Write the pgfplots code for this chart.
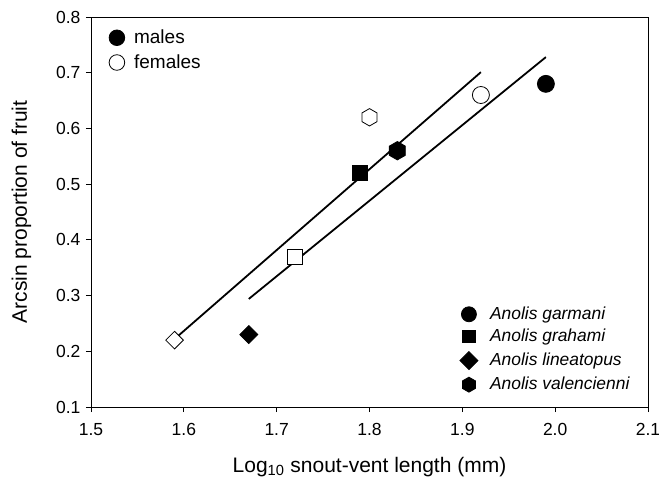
\documentclass[border=0pt]{standalone}
\usepackage{fontspec}
\setmainfont{Liberation Sans}
\usepackage{pgfplots}
\pgfplotsset{compat=1.18}

\pgfdeclareplotmark{hexagon*}{%
  \pgfpathmoveto{\pgfqpointpolar{90}{\pgfplotmarksize}}%
  \pgfpathlineto{\pgfqpointpolar{150}{\pgfplotmarksize}}%
  \pgfpathlineto{\pgfqpointpolar{210}{\pgfplotmarksize}}%
  \pgfpathlineto{\pgfqpointpolar{270}{\pgfplotmarksize}}%
  \pgfpathlineto{\pgfqpointpolar{330}{\pgfplotmarksize}}%
  \pgfpathlineto{\pgfqpointpolar{30}{\pgfplotmarksize}}%
  \pgfpathclose\pgfusepathqfillstroke}
\pgfdeclareplotmark{rhomb*}{%
  \pgfpathmoveto{\pgfqpoint{0pt}{\pgfplotmarksize}}%
  \pgfpathlineto{\pgfqpoint{-\pgfplotmarksize}{0pt}}%
  \pgfpathlineto{\pgfqpoint{0pt}{-\pgfplotmarksize}}%
  \pgfpathlineto{\pgfqpoint{\pgfplotmarksize}{0pt}}%
  \pgfpathclose\pgfusepathqfillstroke}

\pgfplotsset{
  mk/.style={only marks, mark options={draw=black, line width=0.8bp}},
  fem/.style={mark options={fill=white, draw=black, line width=0.8bp}},
  mal/.style={mark options={fill=black, draw=black, line width=0.8bp}},
}

\begin{document}
\begin{tikzpicture}
\begin{axis}[
  scale only axis,
  width=557bp, height=390bp,
  xmin=1.5, xmax=2.1, ymin=0.1, ymax=0.8,
  xtick={1.5,1.6,1.7,1.8,1.9,2.0,2.1},
  ytick={0.1,0.2,0.3,0.4,0.5,0.6,0.7,0.8},
  xtick pos=left, ytick pos=left,
  tick align=outside,
  major tick length=5bp,
  axis line style={line width=0.9bp},
  every tick/.style={line width=0.9bp, black},
  /pgf/number format/.cd, fixed, fixed zerofill, precision=1, assume math mode=true,
  /pgfplots/.cd,
  ticklabel style={font=\fontsize{17.5bp}{20bp}\selectfont},
  xticklabel style={yshift=-8bp},
  yticklabel style={xshift=-2bp},
  xlabel={Log\textsubscript{10} snout-vent length (mm)},
  ylabel={Arcsin proportion of fruit},
  label style={font=\fontsize{21bp}{24bp}\selectfont},
  xlabel style={at={(axis description cs:0.5,-0.1667)}, anchor=base},
  ylabel style={at={(axis description cs:-0.115,0.5)}, anchor=base},
  legend style={draw=none, fill=none, inner sep=0pt, outer sep=0pt,
    at={(0.662,0.257)}, anchor=north west,
    font=\fontsize{17.4bp}{20bp}\selectfont\itshape,
    nodes={inner sep=0pt, text depth=0.2em}, row sep=7.6bp},
  legend cell align=left,
  legend image code/.code={%
    \draw[#1] plot coordinates {(0bp,0bp)};
    \path (-9bp,0bp) (21bp,0bp);},
]
% regression lines
\addplot[black, line width=1.8bp, forget plot] coordinates {(1.59,0.222) (1.92,0.701)};
\addplot[black, line width=1.8bp, forget plot] coordinates {(1.67,0.294) (1.99,0.728)};
% females
\addplot[mk, fem, mark=*, mark size=8.5bp, forget plot] coordinates {(1.92,0.66)};
\addplot[mk, fem, mark=square*, mark size=7.5bp, forget plot] coordinates {(1.72,0.37)};
\addplot[mk, fem, mark=rhomb*, mark size=8.8bp, forget plot] coordinates {(1.59,0.22)};
\addplot[mk, fem, mark=hexagon*, mark size=8.7bp, forget plot] coordinates {(1.80,0.62)};
% males
\addplot[mk, mal, mark=*, mark size=8.5bp, forget plot] coordinates {(1.99,0.68)};
\addplot[mk, mal, mark=square*, mark size=7.5bp, forget plot] coordinates {(1.79,0.52)};
\addplot[mk, mal, mark=rhomb*, mark size=9bp, forget plot] coordinates {(1.67,0.23)};
\addplot[mk, mal, mark=hexagon*, mark size=9.2bp, forget plot] coordinates {(1.83,0.56)};
% species legend
\addlegendimage{mk, mal, mark=*, mark size=7.5bp}
\addlegendentry{Anolis garmani}
\addlegendimage{mk, mal, mark=square*, mark size=6.2bp}
\addlegendentry{Anolis grahami}
\addlegendimage{mk, mal, mark=rhomb*, mark size=9bp}
\addlegendentry{Anolis lineatopus}
\addlegendimage{mk, mal, mark=hexagon*, mark size=7.5bp}
\addlegendentry{Anolis valencienni}
\end{axis}
\begin{axis}[
  scale only axis, hide axis,
  width=557bp, height=390bp,
  xmin=1.5, xmax=2.1, ymin=0.1, ymax=0.8,
  legend style={draw=none, fill=none, inner sep=0pt, outer sep=0pt,
    at={(0.03,0.967)}, anchor=north west,
    font=\fontsize{19bp}{22bp}\selectfont,
    nodes={inner sep=0pt, text depth=0.2em}, row sep=9bp},
  legend cell align=left,
  legend image code/.code={%
    \draw[#1] plot coordinates {(0bp,0bp)};
    \path (-9bp,0bp) (17bp,0bp);},
]
\addlegendimage{mk, mal, mark=*, mark size=7.8bp}
\addlegendentry{males}
\addlegendimage{mk, fem, mark=*, mark size=7.8bp}
\addlegendentry{females}
\end{axis}
\pgfresetboundingbox
\useasboundingbox (-91bp,-72bp) rectangle (568bp,407bp);
\end{tikzpicture}
\end{document}
